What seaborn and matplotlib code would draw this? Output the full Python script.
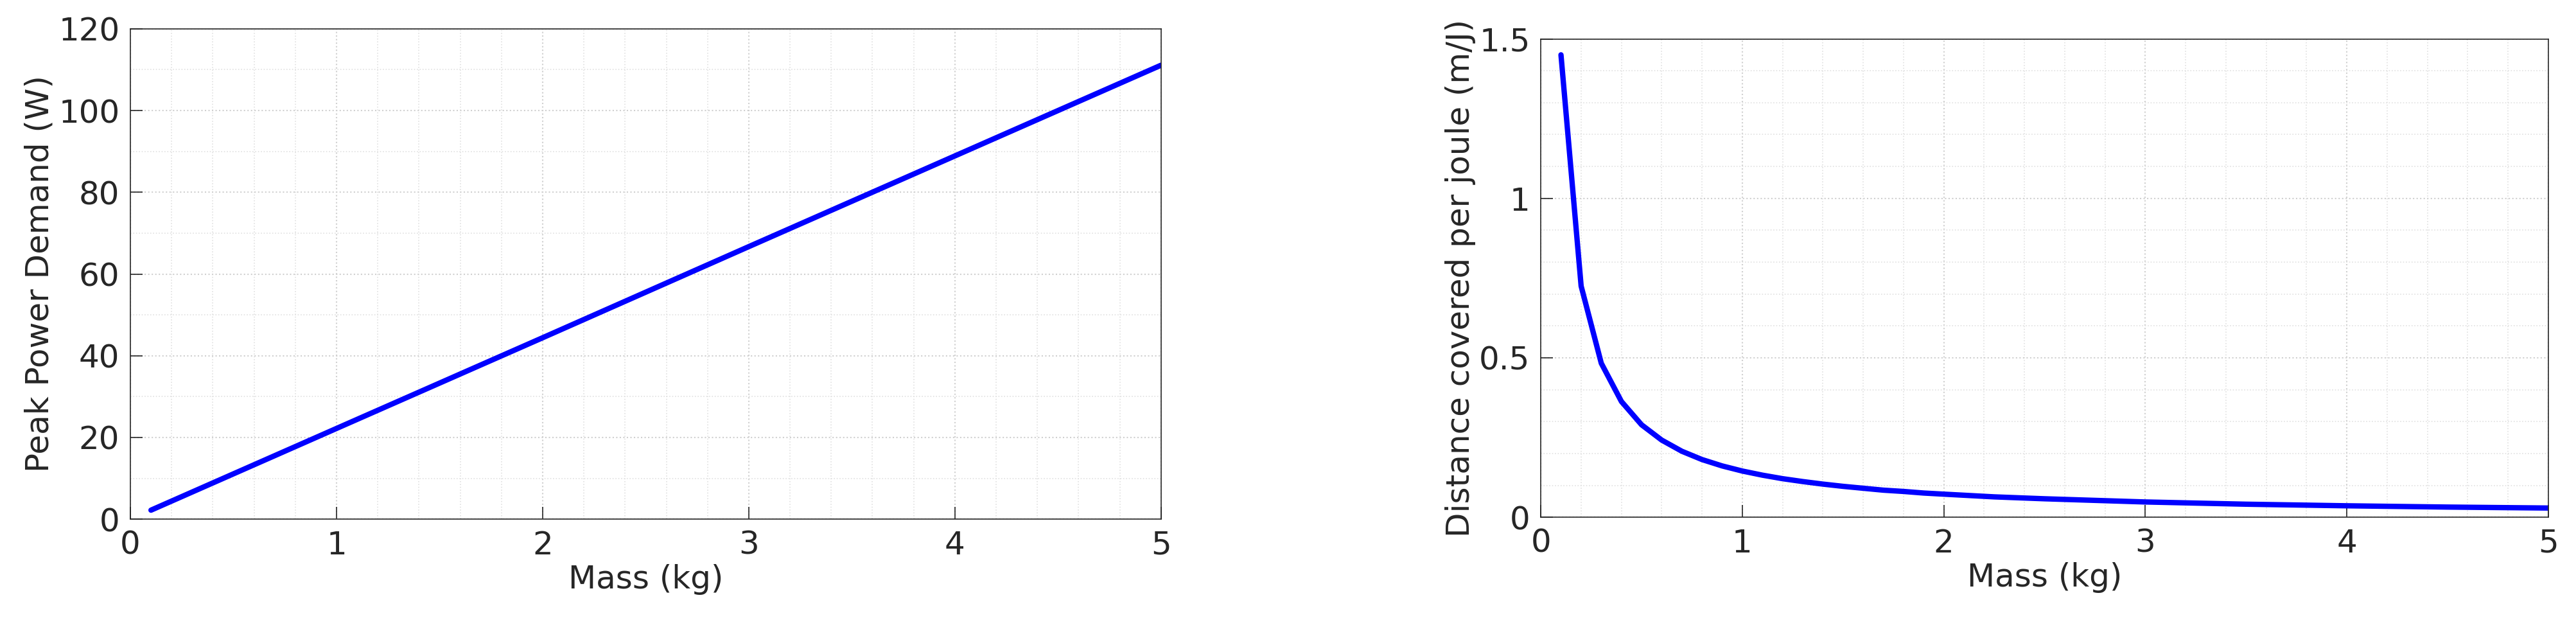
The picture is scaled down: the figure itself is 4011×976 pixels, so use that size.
import numpy as np
import pandas as pd
import matplotlib
matplotlib.use("Agg")
import matplotlib.pyplot as plt
import seaborn as sns
from matplotlib.ticker import MultipleLocator, FuncFormatter

sns.set_theme(style="white")
plt.rcParams['font.family'] = ['DejaVu Sans']

mass_power = [0.1, 1, 2, 3, 4, 5]
peak_power = [2.2, 22.2, 44.4, 66.7, 88.9, 111.1]

mass_dist = [0.1, 0.2, 0.3, 0.4, 0.5, 0.6, 0.7, 0.8, 0.9, 1.0,
             1.1, 1.2, 1.3, 1.4, 1.5, 1.6, 1.7, 1.8, 1.9, 2.0,
             2.25, 2.5, 2.75, 3.0, 3.5, 4.0, 4.5, 5.0]
dist_per_joule = [1.45, 0.725, 0.483, 0.363, 0.29, 0.242, 0.207, 0.181, 0.161, 0.145,
                  0.132, 0.121, 0.112, 0.104, 0.097, 0.091, 0.085, 0.081, 0.076, 0.0725,
                  0.064, 0.058, 0.053, 0.048, 0.041, 0.036, 0.032, 0.029]

fig = plt.figure(figsize=(40.12, 9.76), dpi=100)
ax1 = fig.add_axes([0.0506, 0.172, 0.400, 0.782])
ax2 = fig.add_axes([0.598, 0.175, 0.391, 0.763])

sns.lineplot(x=mass_power, y=peak_power, ax=ax1, color="#0000ff", linewidth=6)
sns.lineplot(x=mass_dist, y=dist_per_joule, ax=ax2, color="#0000ff", linewidth=6)

fmt = FuncFormatter(lambda v, p: f"{v:g}")
for ax, ylim, ymaj, ymin, ylabel in [
        (ax1, (0, 120), 20, 10, "Peak Power Demand (W)"),
        (ax2, (0, 1.5), 0.5, 0.1, "Distance covered per joule (m/J)")]:
    ax.set_xlim(0, 5)
    ax.set_ylim(*ylim)
    ax.xaxis.set_major_locator(MultipleLocator(1))
    ax.xaxis.set_minor_locator(MultipleLocator(0.2))
    ax.yaxis.set_major_locator(MultipleLocator(ymaj))
    ax.yaxis.set_minor_locator(MultipleLocator(ymin))
    ax.xaxis.set_major_formatter(fmt)
    ax.yaxis.set_major_formatter(fmt)
    ax.grid(which="major", color="#d0d0d0", linestyle=":", linewidth=1.5)
    ax.grid(which="minor", color="#e0e0e0", linestyle=":", linewidth=1.2)
    ax.tick_params(which="major", direction="in", length=14, width=1.2, labelsize=36,
                   colors="#262626", left=True, bottom=True, pad=12)
    ax.tick_params(which="minor", length=0)
    ax.set_xlabel("Mass (kg)", fontsize=36, color="#262626")
    ax.set_ylabel(ylabel, fontsize=36, color="#262626")
    for s in ax.spines.values():
        s.set_color("#262626")
        s.set_linewidth(1.2)
    ax.set_axisbelow(True)

fig.savefig("out.png", dpi=100)
